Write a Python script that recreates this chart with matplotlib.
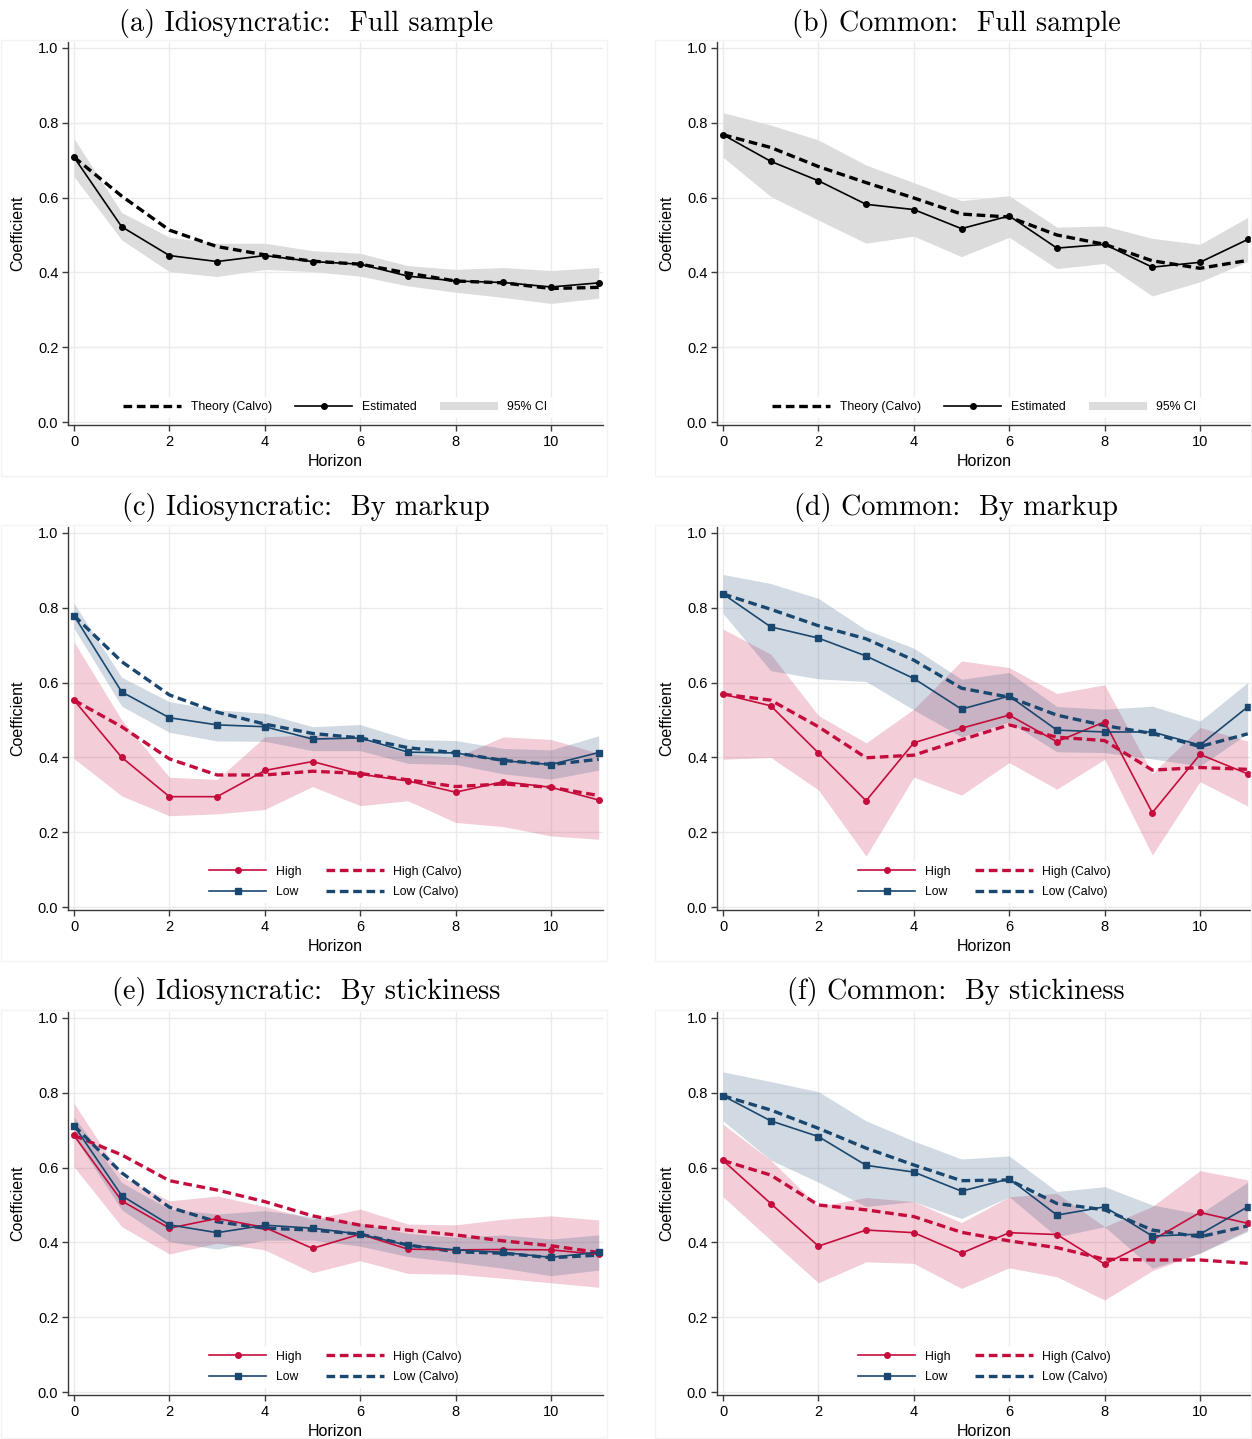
import matplotlib
matplotlib.use("Agg")
import matplotlib.pyplot as plt
from matplotlib.patches import Rectangle, Patch
from matplotlib.lines import Line2D

horizon = list(range(12))

# (a) Idiosyncratic: Full sample
a_est = [0.708, 0.522, 0.445, 0.429, 0.445, 0.429, 0.422, 0.390, 0.377, 0.373, 0.361, 0.372]
a_calvo = [0.708, 0.604, 0.513, 0.469, 0.447, 0.430, 0.422, 0.398, 0.377, 0.372, 0.357, 0.360]
a_hi = [0.758, 0.560, 0.494, 0.478, 0.478, 0.458, 0.451, 0.418, 0.408, 0.413, 0.405, 0.413]
a_lo = [0.656, 0.487, 0.402, 0.389, 0.408, 0.402, 0.390, 0.364, 0.347, 0.333, 0.317, 0.331]

# (b) Common: Full sample
b_est = [0.768, 0.697, 0.645, 0.582, 0.568, 0.517, 0.551, 0.465, 0.475, 0.414, 0.427, 0.488]
b_calvo = [0.768, 0.734, 0.683, 0.640, 0.599, 0.556, 0.548, 0.500, 0.475, 0.431, 0.411, 0.432]
b_hi = [0.827, 0.794, 0.754, 0.687, 0.640, 0.592, 0.605, 0.521, 0.524, 0.491, 0.475, 0.547]
b_lo = [0.708, 0.603, 0.540, 0.478, 0.497, 0.442, 0.494, 0.410, 0.424, 0.337, 0.375, 0.429]

# (c) Idiosyncratic: By markup
c_high = [0.553, 0.400, 0.295, 0.295, 0.365, 0.389, 0.355, 0.337, 0.307, 0.335, 0.320, 0.286]
c_high_calvo = [0.553, 0.482, 0.396, 0.353, 0.353, 0.363, 0.357, 0.340, 0.322, 0.329, 0.320, 0.298]
c_high_hi = [0.709, 0.500, 0.347, 0.341, 0.455, 0.460, 0.450, 0.410, 0.400, 0.455, 0.448, 0.411]
c_high_lo = [0.397, 0.297, 0.244, 0.249, 0.261, 0.322, 0.271, 0.284, 0.226, 0.215, 0.190, 0.181]
c_low = [0.779, 0.575, 0.506, 0.487, 0.482, 0.449, 0.452, 0.414, 0.412, 0.391, 0.381, 0.413]
c_low_calvo = [0.779, 0.656, 0.567, 0.521, 0.489, 0.464, 0.452, 0.426, 0.412, 0.392, 0.381, 0.395]
c_low_hi = [0.812, 0.614, 0.549, 0.527, 0.518, 0.482, 0.488, 0.448, 0.445, 0.424, 0.420, 0.458]
c_low_lo = [0.745, 0.537, 0.467, 0.444, 0.443, 0.418, 0.418, 0.384, 0.381, 0.356, 0.342, 0.366]

# (d) Common: By markup
d_high = [0.569, 0.538, 0.412, 0.284, 0.439, 0.478, 0.513, 0.442, 0.495, 0.252, 0.408, 0.356]
d_high_calvo = [0.569, 0.553, 0.482, 0.399, 0.406, 0.447, 0.487, 0.454, 0.445, 0.366, 0.373, 0.368]
d_high_hi = [0.743, 0.676, 0.512, 0.439, 0.529, 0.658, 0.640, 0.571, 0.594, 0.357, 0.480, 0.444]
d_high_lo = [0.395, 0.400, 0.313, 0.136, 0.347, 0.299, 0.386, 0.315, 0.395, 0.139, 0.335, 0.270]
d_low = [0.837, 0.749, 0.719, 0.671, 0.611, 0.529, 0.564, 0.473, 0.468, 0.468, 0.433, 0.535]
d_low_calvo = [0.837, 0.796, 0.752, 0.717, 0.660, 0.585, 0.561, 0.513, 0.485, 0.464, 0.429, 0.463]
d_low_hi = [0.889, 0.865, 0.825, 0.741, 0.692, 0.609, 0.627, 0.536, 0.529, 0.537, 0.497, 0.600]
d_low_lo = [0.785, 0.632, 0.610, 0.603, 0.527, 0.455, 0.495, 0.415, 0.413, 0.396, 0.377, 0.464]

# (e) Idiosyncratic: By stickiness
e_high = [0.686, 0.511, 0.438, 0.464, 0.440, 0.384, 0.422, 0.382, 0.380, 0.381, 0.380, 0.368]
e_high_calvo = [0.686, 0.634, 0.565, 0.540, 0.509, 0.471, 0.446, 0.433, 0.420, 0.404, 0.391, 0.373]
e_high_hi = [0.772, 0.576, 0.511, 0.524, 0.496, 0.462, 0.489, 0.449, 0.447, 0.462, 0.471, 0.460]
e_high_lo = [0.602, 0.442, 0.369, 0.398, 0.380, 0.319, 0.351, 0.317, 0.315, 0.304, 0.292, 0.280]
e_low = [0.712, 0.525, 0.447, 0.426, 0.446, 0.438, 0.422, 0.392, 0.380, 0.373, 0.360, 0.374]
e_low_calvo = [0.712, 0.586, 0.494, 0.455, 0.438, 0.433, 0.422, 0.393, 0.375, 0.371, 0.359, 0.366]
e_low_hi = [0.736, 0.560, 0.489, 0.476, 0.485, 0.469, 0.451, 0.424, 0.414, 0.420, 0.409, 0.420]
e_low_lo = [0.683, 0.487, 0.402, 0.382, 0.406, 0.406, 0.390, 0.362, 0.347, 0.331, 0.311, 0.326]

# (f) Common: By stickiness
f_high = [0.619, 0.504, 0.390, 0.433, 0.426, 0.371, 0.426, 0.421, 0.342, 0.406, 0.480, 0.451]
f_high_calvo = [0.619, 0.580, 0.500, 0.487, 0.469, 0.427, 0.404, 0.386, 0.355, 0.353, 0.353, 0.344]
f_high_hi = [0.716, 0.620, 0.496, 0.520, 0.509, 0.453, 0.522, 0.531, 0.442, 0.496, 0.592, 0.567]
f_high_lo = [0.522, 0.406, 0.292, 0.348, 0.344, 0.277, 0.332, 0.308, 0.246, 0.324, 0.372, 0.433]
f_low = [0.792, 0.725, 0.683, 0.606, 0.588, 0.537, 0.570, 0.473, 0.495, 0.417, 0.422, 0.495]
f_low_calvo = [0.792, 0.754, 0.705, 0.652, 0.607, 0.565, 0.567, 0.504, 0.487, 0.433, 0.415, 0.444]
f_low_hi = [0.856, 0.830, 0.803, 0.725, 0.671, 0.623, 0.631, 0.536, 0.549, 0.500, 0.476, 0.561]
f_low_lo = [0.725, 0.620, 0.561, 0.496, 0.509, 0.464, 0.522, 0.415, 0.442, 0.331, 0.371, 0.429]

titles = ["(a) Idiosyncratic:  Full sample", "(b) Common:  Full sample",
          "(c) Idiosyncratic:  By markup", "(d) Common:  By markup",
          "(e) Idiosyncratic:  By stickiness", "(f) Common:  By stickiness"]

RED = "#C40D3C"
BLUE = "#1A476F"
GRID = "#EBEBEB"
DASH = (2.6, 1.4)

plt.rcParams["font.family"] = ["Liberation Sans", "DejaVu Sans"]

W, H = 1252, 1439
fig = plt.figure(figsize=(W / 100, H / 100), dpi=100)


def px_axes(left, top, width, height):
    return fig.add_axes([left / W, 1 - (top + height) / H, width / W, height / H])


def style(ax):
    ax.set_xlim(-0.126, 11.09)
    ax.set_ylim(-0.008, 1.016)
    ax.set_xticks([0, 2, 4, 6, 8, 10])
    ax.set_yticks([0.0, 0.2, 0.4, 0.6, 0.8, 1.0])
    ax.set_yticklabels(["0.0", "0.2", "0.4", "0.6", "0.8", "1.0"])
    ax.grid(True, color=GRID, lw=1.0, zorder=0)
    ax.set_axisbelow(True)
    for s in ["top", "right"]:
        ax.spines[s].set_visible(False)
    for s in ["left", "bottom"]:
        ax.spines[s].set_color("#3a3a3a")
        ax.spines[s].set_linewidth(1.0)
    ax.tick_params(direction="out", length=4, width=1, color="#3a3a3a",
                   labelsize=10.5, pad=3)
    ax.set_xlabel("Horizon", fontsize=11.5, labelpad=4)
    ax.set_ylabel("Coefficient", fontsize=11.5, labelpad=9)


def make_legend(ax, handles, labels, ncol, colsp):
    leg = ax.legend(handles, labels, loc="lower center", bbox_to_anchor=(0.5, 0.0),
                    ncol=ncol, fontsize=8.8, handlelength=4.7, handletextpad=0.8,
                    columnspacing=colsp, labelspacing=0.72, frameon=True,
                    facecolor="white", edgecolor="none", framealpha=1,
                    borderaxespad=0.55, fancybox=False)
    leg.set_zorder(10)


def full_panel(ax, est, calvo, hi, lo):
    ax.fill_between(horizon, lo, hi, color="#DCDCDC", lw=0, zorder=1)
    ax.plot(horizon, calvo, color="black", lw=2.4, dashes=DASH, zorder=3)
    ax.plot(horizon, est, color="black", lw=1.2, marker="o", ms=4, zorder=4)
    handles = [Line2D([], [], color="black", lw=2.4, dashes=DASH),
               Line2D([], [], color="black", lw=1.2, marker="o", ms=4),
               Patch(facecolor="#DCDCDC", edgecolor="none")]
    labels = ["Theory (Calvo)", "Estimated", "95% CI"]
    make_legend(ax, handles, labels, 3, 1.9)


def split_panel(ax, high, high_calvo, high_hi, high_lo, low, low_calvo, low_hi, low_lo):
    ax.fill_between(horizon, high_lo, high_hi, color=RED, alpha=0.2, lw=0, zorder=1)
    ax.fill_between(horizon, low_lo, low_hi, color=BLUE, alpha=0.2, lw=0, zorder=1)
    ax.plot(horizon, high_calvo, color=RED, lw=2.4, dashes=DASH, zorder=3)
    ax.plot(horizon, low_calvo, color=BLUE, lw=2.4, dashes=DASH, zorder=3)
    ax.plot(horizon, high, color=RED, lw=1.2, marker="o", ms=4, zorder=4)
    ax.plot(horizon, low, color=BLUE, lw=1.2, marker="s", ms=4, zorder=4)
    handles = [Line2D([], [], color=RED, lw=1.2, marker="o", ms=4),
               Line2D([], [], color=BLUE, lw=1.2, marker="s", ms=4),
               Line2D([], [], color=RED, lw=2.4, dashes=DASH),
               Line2D([], [], color=BLUE, lw=2.4, dashes=DASH)]
    labels = ["High", "Low", "High (Calvo)", "Low (Calvo)"]
    make_legend(ax, handles, labels, 2, 2.0)


lefts = [68, 717]
tops = [42, 527, 1012]
panel_w, panel_h = 535, 383

# faint graph-region outlines
for top in [40, 525, 1010]:
    for left, right in [(1, 607), (655, 1251)]:
        bottom = min(top + 436, H - 1)
        fig.add_artist(Rectangle((left / W, 1 - bottom / H),
                                 (right - left) / W, (bottom - top) / H,
                                 transform=fig.transFigure, fill=False,
                                 edgecolor="#F3F3F3", lw=1))

axes = []
for r in range(3):
    for c in range(2):
        ax = px_axes(lefts[c], tops[r], panel_w, panel_h)
        style(ax)
        axes.append(ax)

full_panel(axes[0], a_est, a_calvo, a_hi, a_lo)
full_panel(axes[1], b_est, b_calvo, b_hi, b_lo)
split_panel(axes[2], c_high, c_high_calvo, c_high_hi, c_high_lo,
            c_low, c_low_calvo, c_low_hi, c_low_lo)
split_panel(axes[3], d_high, d_high_calvo, d_high_hi, d_high_lo,
            d_low, d_low_calvo, d_low_hi, d_low_lo)
split_panel(axes[4], e_high, e_high_calvo, e_high_hi, e_high_lo,
            e_low, e_low_calvo, e_low_hi, e_low_lo)
split_panel(axes[5], f_high, f_high_calvo, f_high_hi, f_high_lo,
            f_low, f_low_calvo, f_low_hi, f_low_lo)

title_y = [23, 507, 992]
title_x = [306, 956]
for i, t in enumerate(titles):
    r, c = divmod(i, 2)
    fig.text(title_x[c] / W, 1 - title_y[r] / H, t, family="cmr10",
             fontsize=20.3, ha="center", va="center")

fig.savefig("out.png", dpi=100)
